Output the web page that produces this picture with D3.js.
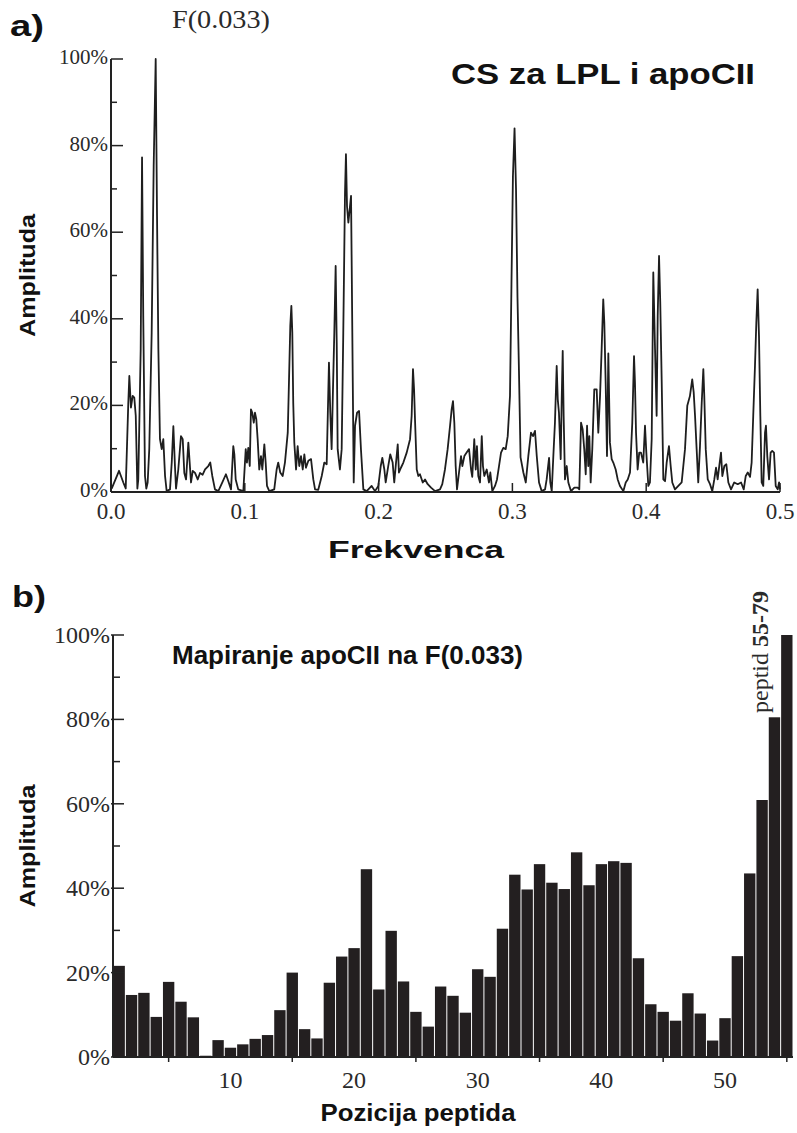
<!DOCTYPE html>
<html>
<head>
<meta charset="utf-8">
<script src="https://cdn.jsdelivr.net/npm/d3@7"></script>
<style>
  body { margin: 0; background: #fff; }
  svg { display: block; }
  .serif { font-family: "Liberation Serif", "Times New Roman", serif; fill: #2a2a2a; }
  .sans { font-family: "Liberation Sans", Arial, sans-serif; font-weight: bold; fill: #111; }
</style>
</head>
<body>
<div id="chart"></div>
<script>
// spectrum (panel a)
var freq = [0.0005,0.0060,0.0092,0.0110,0.0129,0.0137,0.0149,0.0162,0.0174,0.0185,0.0197,0.0204,0.0222,0.0232,0.0241,0.0254,0.0264,0.0274,0.0286,0.0304,0.0319,0.0334,0.0344,0.0354,0.0366,0.0379,0.0391,0.0404,0.0416,0.0441,0.0454,0.0466,0.0478,0.0486,0.0503,0.0523,0.0536,0.0548,0.0561,0.0578,0.0588,0.0598,0.0611,0.0628,0.0648,0.0665,0.0685,0.0703,0.0727,0.0742,0.0757,0.0777,
  0.0802,0.0832,0.0859,0.0877,0.0897,0.0914,0.0922,0.0932,0.0951,0.0989,0.1007,0.1016,0.1026,0.1037,0.1046,0.1056,0.1067,0.1076,0.1086,0.1096,0.1108,0.1121,0.1131,0.1146,0.1156,0.1166,0.1183,0.1220,0.1238,0.1250,0.1265,0.1283,0.1300,0.1321,0.1330,0.1340,0.1348,0.1355,0.1362,0.1370,0.1383,0.1395,0.1407,0.1420,0.1433,0.1445,0.1457,0.1475,0.1495,0.1512,0.1525,0.1549,0.1575,0.1594,0.1612,
  0.1629,0.1639,0.1649,0.1659,0.1669,0.1679,0.1687,0.1694,0.1711,0.1724,0.1736,0.1749,0.1756,0.1764,0.1774,0.1784,0.1794,0.1799,0.1807,0.1814,0.1824,0.1839,0.1854,0.1868,0.1886,0.1911,0.1948,0.1973,0.1998,0.2016,0.2028,0.2043,0.2053,0.2072,0.2087,0.2105,0.2117,0.2128,0.2143,0.2152,0.2167,0.2185,0.2210,0.2235,0.2247,0.2257,0.2265,0.2272,0.2285,0.2297,0.2309,0.2330,0.2347,0.2367,0.2392,0.2422,
  0.2459,0.2476,0.2496,0.2516,0.2534,0.2546,0.2556,0.2566,0.2576,0.2586,0.2601,0.2616,0.2626,0.2641,0.2658,0.2676,0.2691,0.2700,0.2715,0.2726,0.2735,0.2745,0.2758,0.2771,0.2780,0.2790,0.2808,0.2825,0.2835,0.2850,0.2870,0.2885,0.2900,0.2915,0.2932,0.2950,0.2965,0.2982,0.2993,0.3004,0.3016,0.3027,0.3038,0.3049,0.3061,0.3082,0.3100,0.3119,0.3139,0.3154,0.3169,0.3182,0.3199,0.3219,0.3244,
  0.3256,0.3274,0.3283,0.3294,0.3306,0.3318,0.3331,0.3339,0.3348,0.3361,0.3368,0.3376,0.3383,0.3393,0.3406,0.3418,0.3438,0.3463,0.3488,0.3500,0.3513,0.3525,0.3537,0.3548,0.3558,0.3567,0.3575,0.3585,0.3597,0.3612,0.3630,0.3642,0.3655,0.3667,0.3679,0.3687,0.3697,0.3707,0.3717,0.3729,0.3742,0.3754,0.3772,0.3787,0.3804,0.3829,0.3847,0.3862,0.3879,0.3896,0.3909,0.3916,0.3924,0.3936,0.3948,0.3961,0.3978,0.3991,0.4001,0.4016,0.4028,0.4041,0.4053,0.4066,0.4078,0.4086,0.4096,0.4105,0.4116,0.4128,
  0.4141,0.4153,0.4170,0.4183,0.4195,0.4215,0.4240,0.4265,0.4290,0.4307,0.4327,0.4344,0.4355,0.4365,0.4377,0.4389,0.4402,0.4415,0.4427,0.4434,0.4445,0.4460,0.4477,0.4494,0.4509,0.4522,0.4534,0.4546,0.4559,0.4569,0.4584,0.4599,0.4614,0.4634,0.4658,0.4684,0.4709,0.4729,0.4744,0.4759,0.4776,0.4788,0.4800,0.4813,0.4823,0.4833,0.4843,0.4853,0.4863,0.4875,0.4888,0.4895,0.4905,0.4918,0.4930,0.4942,0.4955,0.4968,0.4983,0.4993,0.5000];
var amp = [0.8,4.9,2.2,0.8,20.3,26.8,19.5,22.2,21.8,17.6,0.8,2.9,33,77.3,40.7,3.7,0.8,2.2,9.9,36.8,75.3,100,63.8,33,12.2,9.9,12.2,3.7,0.2,0.6,6.8,15.2,6.0,0.8,5.2,12.9,12.2,4.4,2.9,11.4,6.8,2.2,4.9,4.4,2.9,4.4,4.0,5.2,6.0,6.8,3.7,0.6,
  0.2,2.2,4.1,2.5,0.6,10.6,8.7,2.9,0.6,0.2,9.9,6.8,10.2,6.0,19.1,18.3,16.0,18.3,16.8,12.2,5.2,8.3,5.2,11.0,6.8,1.4,0.2,0.6,5.2,6.8,4.5,3.7,6.8,13.7,25.3,38.4,43,36.8,20.6,11.4,5.2,10.6,6.0,8.3,5.2,8.7,5.6,7.2,7.6,2.9,0.6,0.5,3.7,6.8,6.4,
  29.9,18.3,9.9,23.7,36.8,52.2,34.5,9.9,5.2,9.9,36.8,69.2,78,66,62.2,65.3,68.4,52.2,25.3,2.2,15.3,18.3,18.7,9.9,0.6,0.2,1.4,0.2,1.4,6.0,7.9,5.2,2.2,6.0,8.7,6.8,2.2,6.0,11.0,4.5,5.6,6.8,9.1,12.2,17.6,28.4,23.7,16.8,5.2,3.7,4.1,2.2,2.9,1.8,1.0,0.2,
  0.6,1.8,5.2,9.9,15.3,19.1,21,16,6.0,0.6,4.5,8.3,6.0,8.3,9.1,9.9,5.2,3.5,12.2,5.2,10.6,3.7,2.2,12.9,6.0,3.7,5.2,2.2,4.5,0.2,1.4,2.9,6.0,9.1,10.2,9.9,12.9,22.2,48,73,84,70,45,28,8,4.5,2.2,8.3,13.7,12.9,14.1,8.3,2.2,0.2,0.6,
  2.9,7.9,2.2,0.2,8.3,16,29.1,21.4,18.3,7.6,20.6,32.6,17.6,2.9,6,2.2,0.2,1.0,1.0,0.6,16,14.5,9.9,4.1,15.3,6,12.9,2.2,9.9,23.7,23.7,13.7,22.2,33,44.5,39.1,25.3,8.3,32,11.4,7.6,6.8,5.2,2.9,1.4,0.2,2.2,2.9,4.5,16,31.4,25.3,13.7,5.2,9.1,9.1,6.8,15.3,9.1,1.4,2.2,12.2,50.7,33,17.6,40.7,54.5,43.8,25.3,2.9,
  2.5,6.8,10.6,6,2.2,0.6,1.4,2.2,9.9,19.9,22.2,26,23,17.6,9.9,2.2,10.6,20.6,28.4,22.2,9.9,2.9,1.8,0.2,2.9,5.6,2.9,6,9.1,3.7,6,6.4,2.2,0.6,2.2,1.8,2.2,0.6,3.7,4.5,3.5,6.8,17.6,29.1,39.1,46.8,36,17.6,2.2,1.4,13.7,15.3,8.3,2.9,9.1,9.5,9.1,1.4,0.6,2.2,0.6];

// peptide mapping (panel b)
var positions = d3.range(1, 56);
var peptideAmp = [21.6,14.7,15.2,9.5,17.8,13.1,9.4,0.3,4.0,2.2,3.0,4.3,5.2,11.1,20.0,6.6,4.4,17.6,23.8,25.8,44.5,16.0,29.9,17.9,10.7,7.2,16.7,14.5,10.5,20.8,19.0,30.4,43.2,39.7,45.7,41.3,39.8,48.5,40.7,45.7,46.4,46.0,23.4,12.5,10.7,8.6,15.1,10.3,3.9,9.2,23.9,43.5,60.9,80.5,100];

var ampTicks = [0, 20, 40, 60, 80, 100];
var ampMinor = [10, 30, 50, 70, 90];
var freqTicks = [0, 0.1, 0.2, 0.3, 0.4, 0.5];
var posLabels = [10, 20, 30, 40, 50];
var posTicks = [5, 15, 25, 35, 45, 55];

var svg = d3.select("#chart").append("svg")
  .attr("width", 797)
  .attr("height", 1133);

// stretched bold label helper (the source figure is scaled wider than the font)
function label(g, txt, x, y, size, len, anchor, rot) {
  var t = g.append("text").attr("class", "sans")
    .attr("text-anchor", anchor || "start")
    .attr("textLength", len)
    .attr("lengthAdjust", "spacingAndGlyphs")
    .style("font-size", size + "px")
    .text(txt);
  if (rot) t.attr("transform", "translate(" + x + "," + y + ") rotate(-90)");
  else t.attr("x", x).attr("y", y);
  return t;
}

// ---------- panel a ----------
var xa = d3.scaleLinear().domain([0, 0.5]).range([111, 780]);
var ya = d3.scaleLinear().domain([0, 100]).range([492, 59]);

var ga = svg.append("g");

ga.append("path")
  .datum(freq.map(function(f, i) { return [f, amp[i]]; }))
  .attr("fill", "none")
  .attr("stroke", "#1e1e1e")
  .attr("stroke-width", 1.8)
  .attr("stroke-linejoin", "round")
  .attr("d", d3.line().x(function(d) { return xa(d[0]); }).y(function(d) { return ya(d[1]); }));

ga.append("line").attr("x1", xa(0)).attr("x2", xa(0)).attr("y1", ya(0)).attr("y2", ya(100))
  .attr("stroke", "#222").attr("stroke-width", 2);
ga.append("line").attr("x1", xa(0)).attr("x2", xa(0.5)).attr("y1", ya(0)).attr("y2", ya(0))
  .attr("stroke", "#222").attr("stroke-width", 2);

ga.selectAll(".ymaj").data(ampTicks).enter().append("line")
  .attr("x1", xa(0)).attr("x2", xa(0) + 12)
  .attr("y1", function(d) { return ya(d); }).attr("y2", function(d) { return ya(d); })
  .attr("stroke", "#222").attr("stroke-width", 1.5);
ga.selectAll(".ymin").data(ampMinor).enter().append("line")
  .attr("x1", xa(0)).attr("x2", xa(0) + 6)
  .attr("y1", function(d) { return ya(d); }).attr("y2", function(d) { return ya(d); })
  .attr("stroke", "#222").attr("stroke-width", 1.5);
ga.selectAll(".ylab").data(ampTicks).enter().append("text")
  .attr("class", "serif")
  .attr("x", xa(0) - 3)
  .attr("y", function(d) { return ya(d) + 5; })
  .attr("text-anchor", "end")
  .style("font-size", "21px")
  .text(function(d) { return d + "%"; });

ga.selectAll(".xtick").data(freqTicks).enter().append("line")
  .attr("x1", function(d) { return xa(d); }).attr("x2", function(d) { return xa(d); })
  .attr("y1", ya(0)).attr("y2", ya(0) - 9)
  .attr("stroke", "#222").attr("stroke-width", 1.5);
ga.selectAll(".xlab").data(freqTicks).enter().append("text")
  .attr("class", "serif")
  .attr("x", function(d) { return xa(d); })
  .attr("y", ya(0) + 27)
  .attr("text-anchor", "middle")
  .style("font-size", "23px")
  .text(function(d) { return d3.format(".1f")(d); });

label(ga, "a)", 10, 36, 30, 34);
ga.append("text").attr("class", "serif").attr("x", 172).attr("y", 28)
  .attr("textLength", 98).attr("lengthAdjust", "spacingAndGlyphs")
  .style("font-size", "26px").text("F(0.033)");
label(ga, "CS za LPL i apoCII", 451, 84, 30, 304);
label(ga, "Frekvenca", 416, 558, 23, 176, "middle");
label(ga, "Amplituda", 35, ya(50), 22, 123, "middle", true);

// ---------- panel b ----------
var xb = d3.scaleLinear().domain([0.5, 55.5]).range([113, 793]);
var yb = d3.scaleLinear().domain([0, 100]).range([1057, 635]);
var step = xb(2) - xb(1);

var gb = svg.append("g");

gb.selectAll(".bar").data(positions).enter().append("rect")
  .attr("x", function(d) { return xb(d - 0.5) + 0.5; })
  .attr("width", step - 1)
  .attr("y", function(d, i) { return yb(peptideAmp[i]); })
  .attr("height", function(d, i) { return yb(0) - yb(peptideAmp[i]); })
  .attr("fill", "#231f20");

gb.append("line").attr("x1", xb(0.5)).attr("x2", xb(0.5)).attr("y1", yb(0)).attr("y2", yb(100))
  .attr("stroke", "#222").attr("stroke-width", 2);
gb.append("line").attr("x1", xb(0.5)).attr("x2", xb(55.5)).attr("y1", yb(0)).attr("y2", yb(0))
  .attr("stroke", "#222").attr("stroke-width", 2);

gb.selectAll(".ymaj").data(ampTicks).enter().append("line")
  .attr("x1", xb(0.5) - 2).attr("x2", xb(0.5) + 11)
  .attr("y1", function(d) { return yb(d); }).attr("y2", function(d) { return yb(d); })
  .attr("stroke", "#222").attr("stroke-width", 1.5);
gb.selectAll(".ymin").data(ampMinor).enter().append("line")
  .attr("x1", xb(0.5)).attr("x2", xb(0.5) + 7)
  .attr("y1", function(d) { return yb(d); }).attr("y2", function(d) { return yb(d); })
  .attr("stroke", "#222").attr("stroke-width", 1.5);
gb.selectAll(".ylab").data(ampTicks).enter().append("text")
  .attr("class", "serif")
  .attr("x", xb(0.5) - 3)
  .attr("y", function(d) { return yb(d) + 8; })
  .attr("text-anchor", "end")
  .style("font-size", "24px")
  .text(function(d) { return d + "%"; });

gb.selectAll(".xtick").data(posTicks).enter().append("line")
  .attr("x1", function(d) { return xb(d); }).attr("x2", function(d) { return xb(d); })
  .attr("y1", yb(0)).attr("y2", yb(0) + 5)
  .attr("stroke", "#222").attr("stroke-width", 1.5);
gb.selectAll(".xlab").data(posLabels).enter().append("text")
  .attr("class", "serif")
  .attr("x", function(d) { return xb(d); })
  .attr("y", yb(0) + 31)
  .attr("text-anchor", "middle")
  .style("font-size", "24px")
  .text(function(d) { return d; });

label(gb, "b)", 12, 607, 30, 34);
label(gb, "Mapiranje apoCII na F(0.033)", 172, 664, 25, 351);
label(gb, "Pozicija peptida", 418, 1121, 23, 195, "middle");
label(gb, "Amplituda", 35, yb(50), 22, 123, "middle", true);

var pep = gb.append("text").attr("class", "serif")
  .attr("transform", "translate(768,713) rotate(-90)")
  .style("font-size", "24px");
pep.append("tspan").text("peptid ");
pep.append("tspan").style("font-weight", "bold").text("55-79");
</script>
</body>
</html>
